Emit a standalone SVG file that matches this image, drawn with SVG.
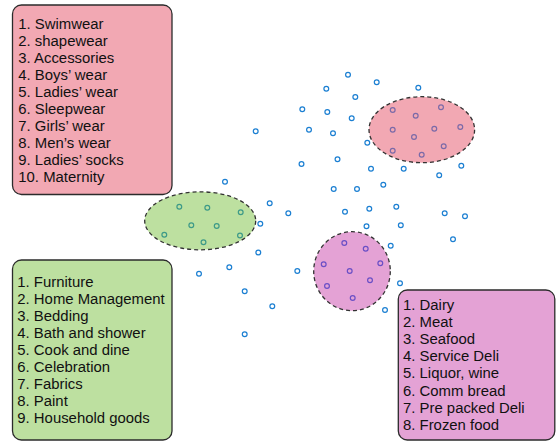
<svg xmlns="http://www.w3.org/2000/svg" width="556" height="441" viewBox="0 0 556 441">
<style>
.box{stroke:#2b2b2b;stroke-width:1.3}
.ell{stroke:#333;stroke-width:1.3;stroke-dasharray:4 3}
.t{font-family:"Liberation Sans",Arial,sans-serif;font-size:14.9px;fill:#111}
.d{fill:none;stroke:#1b7fd2;stroke-width:1.2}
.dg{fill:none;stroke:#3d9a88;stroke-width:1.2}
.dp{fill:none;stroke:#7b6aa8;stroke-width:1.2}
.dm{fill:none;stroke:#6a4fc6;stroke-width:1.2}
</style>
<rect width="556" height="441" fill="#fff"/>
<g id="legend-apparel">
<rect class="box" x="12.5" y="5" width="159.5" height="189.5" rx="9" fill="#f2a8b3"/>
<text class="t" x="18.3" y="28.5">1. Swimwear</text>
<text class="t" x="18.3" y="45.6">2. shapewear</text>
<text class="t" x="18.3" y="62.6">3. Accessories</text>
<text class="t" x="18.3" y="79.7">4. Boys’ wear</text>
<text class="t" x="18.3" y="96.7">5. Ladies’ wear</text>
<text class="t" x="18.3" y="113.8">6. Sleepwear</text>
<text class="t" x="18.3" y="130.8">7. Girls’ wear</text>
<text class="t" x="18.3" y="147.9">8. Men’s wear</text>
<text class="t" x="18.3" y="164.9">9. Ladies’ socks</text>
<text class="t" x="18.3" y="182">10. Maternity</text>
</g>
<g id="legend-home">
<rect class="box" x="12.5" y="260" width="159.5" height="180" rx="9" fill="#bde0a0"/>
<text class="t" x="17.3" y="287">1. Furniture</text>
<text class="t" x="17.3" y="304.1">2. Home Management</text>
<text class="t" x="17.3" y="321.1">3. Bedding</text>
<text class="t" x="17.3" y="338.2">4. Bath and shower</text>
<text class="t" x="17.3" y="355.2">5. Cook and dine</text>
<text class="t" x="17.3" y="372.3">6. Celebration</text>
<text class="t" x="17.3" y="389.3">7. Fabrics</text>
<text class="t" x="17.3" y="406.4">8. Paint</text>
<text class="t" x="17.3" y="423.4">9. Household goods</text>
</g>
<g id="legend-food">
<rect class="box" x="398.3" y="290" width="156.5" height="150" rx="9" fill="#e4a2d5"/>
<text class="t" x="403" y="309.5">1. Dairy</text>
<text class="t" x="403" y="326.7">2. Meat</text>
<text class="t" x="403" y="343.9">3. Seafood</text>
<text class="t" x="403" y="361.1">4. Service Deli</text>
<text class="t" x="403" y="378.3">5. Liquor, wine</text>
<text class="t" x="403" y="395.5">6. Comm bread</text>
<text class="t" x="403" y="412.7">7. Pre packed Deli</text>
<text class="t" x="403" y="429.9">8. Frozen food</text>
</g>
<g id="cluster-home">
<ellipse class="ell" cx="200.2" cy="220.8" rx="55.5" ry="29" fill="#bde0a0"/>
<circle class="dg" cx="179.3" cy="206.7" r="2.4"/>
<circle class="dg" cx="207.3" cy="207.7" r="2.4"/>
<circle class="dg" cx="240.7" cy="212.3" r="2.4"/>
<circle class="dg" cx="191.3" cy="225.3" r="2.4"/>
<circle class="dg" cx="216.7" cy="226" r="2.4"/>
<circle class="dg" cx="164.3" cy="234.7" r="2.4"/>
<circle class="dg" cx="240" cy="235.5" r="2.4"/>
<circle class="dg" cx="203.5" cy="242.2" r="2.4"/>
</g>
<g id="cluster-apparel">
<ellipse class="ell" cx="421.8" cy="129.7" rx="52.8" ry="33" fill="#f2a8b3"/>
<circle class="dp" cx="392.7" cy="110" r="2.4"/>
<circle class="dp" cx="415.7" cy="115.7" r="2.4"/>
<circle class="dp" cx="441" cy="107.3" r="2.4"/>
<circle class="dp" cx="392.7" cy="129.7" r="2.4"/>
<circle class="dp" cx="434.3" cy="128.7" r="2.4"/>
<circle class="dp" cx="460.3" cy="127" r="2.4"/>
<circle class="dp" cx="414" cy="137" r="2.4"/>
<circle class="dp" cx="392.7" cy="150.7" r="2.4"/>
<circle class="dp" cx="443.7" cy="146.3" r="2.4"/>
<circle class="dp" cx="421.7" cy="154.7" r="2.4"/>
</g>
<g id="cluster-food">
<ellipse class="ell" cx="352" cy="271.2" rx="38.3" ry="39.5" fill="#e4a2d5"/>
<circle class="dm" cx="344.3" cy="243" r="2.4"/>
<circle class="dm" cx="365.7" cy="248.7" r="2.4"/>
<circle class="dm" cx="323.7" cy="264.3" r="2.4"/>
<circle class="dm" cx="380.3" cy="263.3" r="2.4"/>
<circle class="dm" cx="349.7" cy="271" r="2.4"/>
<circle class="dm" cx="327" cy="286" r="2.4"/>
<circle class="dm" cx="370" cy="280.3" r="2.4"/>
<circle class="dm" cx="352.7" cy="298" r="2.4"/>
</g>
<g id="points">
<circle class="d" cx="348" cy="74.7" r="2.4"/>
<circle class="d" cx="376.7" cy="82.3" r="2.4"/>
<circle class="d" cx="326.3" cy="88.7" r="2.4"/>
<circle class="d" cx="418.3" cy="87.7" r="2.4"/>
<circle class="d" cx="355.3" cy="97" r="2.4"/>
<circle class="d" cx="302.3" cy="109.3" r="2.4"/>
<circle class="d" cx="327.3" cy="112" r="2.4"/>
<circle class="d" cx="351.7" cy="118.3" r="2.4"/>
<circle class="d" cx="255.7" cy="131.3" r="2.4"/>
<circle class="d" cx="309" cy="129.7" r="2.4"/>
<circle class="d" cx="333" cy="133.3" r="2.4"/>
<circle class="d" cx="367.3" cy="142.7" r="2.4"/>
<circle class="d" cx="301.5" cy="164" r="2.4"/>
<circle class="d" cx="337.5" cy="159.3" r="2.4"/>
<circle class="d" cx="371" cy="168.7" r="2.4"/>
<circle class="d" cx="403.7" cy="168.7" r="2.4"/>
<circle class="d" cx="461.3" cy="165.8" r="2.4"/>
<circle class="d" cx="439.2" cy="175.2" r="2.4"/>
<circle class="d" cx="225" cy="181.7" r="2.4"/>
<circle class="d" cx="333.7" cy="189" r="2.4"/>
<circle class="d" cx="357" cy="189" r="2.4"/>
<circle class="d" cx="383.3" cy="184.7" r="2.4"/>
<circle class="d" cx="269.7" cy="203.3" r="2.4"/>
<circle class="d" cx="288.3" cy="213.3" r="2.4"/>
<circle class="d" cx="260.3" cy="223.7" r="2.4"/>
<circle class="d" cx="345" cy="211.7" r="2.4"/>
<circle class="d" cx="369.3" cy="208.7" r="2.4"/>
<circle class="d" cx="396.3" cy="206.8" r="2.4"/>
<circle class="d" cx="444.7" cy="213.3" r="2.4"/>
<circle class="d" cx="465" cy="216.2" r="2.4"/>
<circle class="d" cx="366.5" cy="226.3" r="2.4"/>
<circle class="d" cx="400.8" cy="225.3" r="2.4"/>
<circle class="d" cx="453" cy="239.3" r="2.4"/>
<circle class="d" cx="390.7" cy="245.8" r="2.4"/>
<circle class="d" cx="258.3" cy="252.5" r="2.4"/>
<circle class="d" cx="229.3" cy="267.3" r="2.4"/>
<circle class="d" cx="199" cy="273.7" r="2.4"/>
<circle class="d" cx="297.3" cy="271" r="2.4"/>
<circle class="d" cx="244.7" cy="291.3" r="2.4"/>
<circle class="d" cx="272.3" cy="306.3" r="2.4"/>
<circle class="d" cx="244.7" cy="334.3" r="2.4"/>
<circle class="d" cx="400" cy="283.3" r="2.4"/>
<circle class="d" cx="385" cy="310" r="2.4"/>
</g>
</svg>
